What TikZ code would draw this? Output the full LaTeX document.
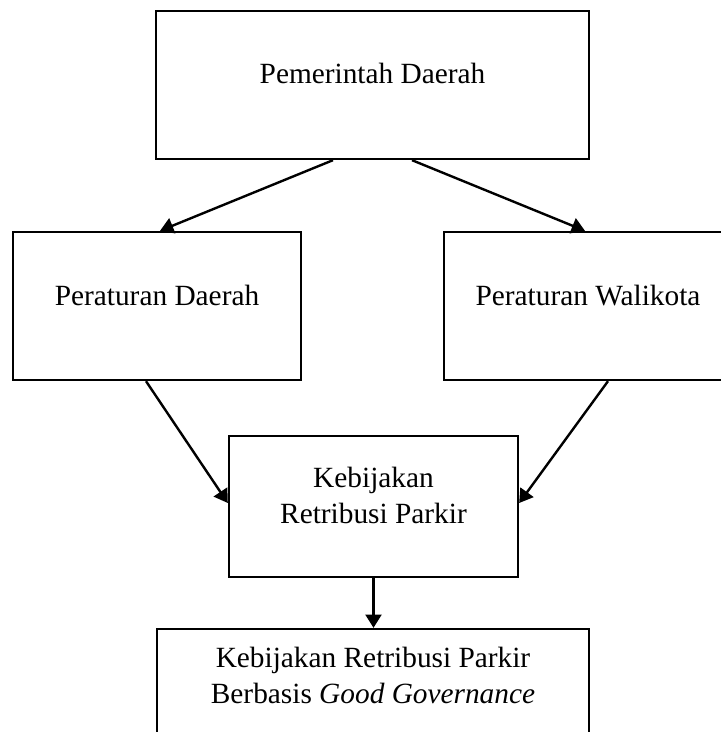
\documentclass[tikz,border=0pt]{standalone}
\usepackage{fontspec}
\setmainfont{Liberation Serif}
\usetikzlibrary{arrows.meta,fit,calc}
\begin{document}
\begin{tikzpicture}[x=0.75pt,y=-0.75pt,
  box/.style={draw, line width=1.75pt, inner sep=0pt, rectangle},
  txt/.style={inner sep=0pt, font=\fontsize{22pt}{27pt}\selectfont, align=center},
  arr/.style={line width=1.8pt, -{Triangle[length=10pt,width=12pt]}}]
\useasboundingbox (0,0) rectangle (721,732);
\clip (0,0) rectangle (721,732);
\fill[white] (0,0) rectangle (721,732);
\node[box, fit={(156,11) (589,159)}] (b1) {};
\node[box, fit={(13,232) (301,380)}] (b2) {};
\node[box, fit={(444,232) (732,380)}] (b3) {};
\node[box, fit={(229,436) (518,577)}] (b4) {};
\node[box, fit={(157,629) (589,770)}] (b5) {};
\node[txt, anchor=base] (t1) at (372.5,83) {Pemerintah Daerah};
\node[txt, anchor=base] (t2) at (157,305) {Peraturan Daerah};
\node[txt, anchor=base] (t3) at (588,305) {Peraturan Walikota};
\node[txt, anchor=north] (t4) at (373.5,467) {Kebijakan\\Retribusi Parkir};
\node[txt, anchor=north] (t5) at (373,647) {Kebijakan Retribusi Parkir\\Berbasis \textit{Good Governance}};
\draw[arr] ($(b1.south)+(-39.5,0)$) -- ($(b2.north)+(3,0)$);
\draw[arr] ($(b1.south)+(39.5,0)$) -- ($(b3.north)+(-3,0)$);
\draw[arr] ($(b2.south)+(-11,0)$) -- ($(b4.west)+(0,-3.5)$);
\draw[arr] ($(b3.south)+(20,0)$) -- ($(b4.east)+(0,-3.5)$);
\draw[arr] (b4.south) -- (b4.south |- b5.north);
\end{tikzpicture}
\end{document}
